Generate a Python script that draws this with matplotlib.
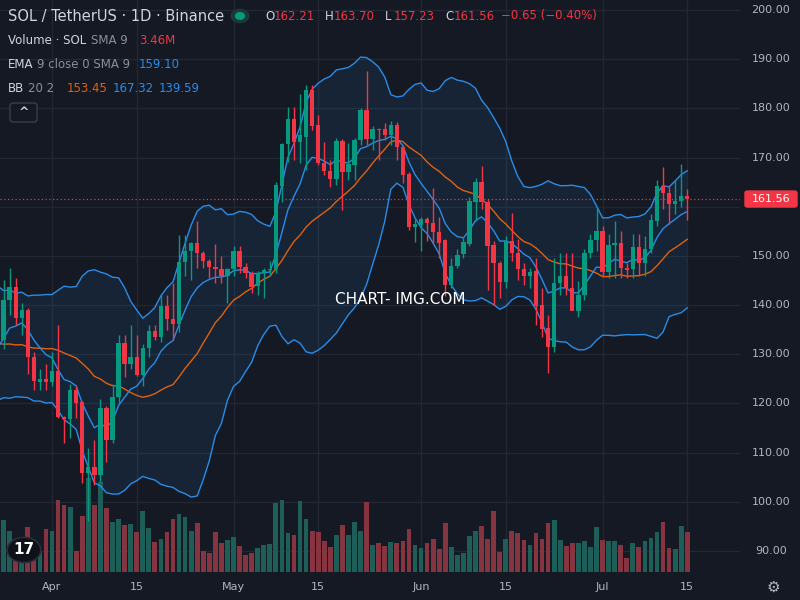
import numpy as np
import matplotlib
matplotlib.use("Agg")
import matplotlib.pyplot as plt
from matplotlib.patches import Circle, FancyBboxPatch

# warm-up closes (Mar 1 - Mar 22), off-screen, used for indicators only
warm_close = [148, 170, 143, 145, 143, 141, 138, 138, 130, 125, 127, 126, 124, 128,
              133, 130, 128, 130, 135, 130, 130, 131]

# visible daily candles, Mar 23 .. Jul 15
opens = [128, 133, 141, 143.7, 137.3, 139, 129.5, 124.4, 125,
         124.4, 126.6, 117.2, 116.9, 122.7, 120.2, 105.9, 107, 105.5, 119, 112.6, 121.3, 132.3, 128, 129.5,
         125.8, 131.3, 134.7, 133.6, 139.8, 137.2, 136.2, 148.8, 151, 152.6, 150.6, 149, 147.7, 147.4, 145.9,
         147.3, 150.9, 147.8, 146.6, 143.9, 146.6, 147.2, 147.3, 164.2, 172.8, 177.8, 173.2, 174.2, 183.7, 176.6,
         168.9, 167.2, 165.7, 173.4, 167, 168.5, 173.6, 179.7, 173.8, 175.8, 175.8, 174.6, 176.7, 172.1, 166.7, 155.9,
         156.3, 157.6, 156.7, 154.8, 153.2, 144.1, 148, 150.3, 152.4, 161, 165.1, 161, 152.2, 148.6, 144.6, 153.1,
         150.6, 147.3, 145.9, 146.9, 140, 135.3, 131.5, 144.5, 146, 143.5, 138.8, 142.1, 150.6, 153.3,
         155, 146.8, 152.2, 152.6, 147.6, 147.4, 151.8, 148.6, 151.4, 157, 164.2, 162.8, 160.5, 161.1, 162.21]
highs = [134, 145, 147.5, 145.5, 140.5, 139.5, 130.5, 127, 128,
         130.5, 136, 117.5, 124, 123.5, 120.5, 111, 112.6, 121, 119.5, 124, 134, 134, 136, 134,
         132, 136, 136, 142, 142, 144.5, 154.3, 154.3, 152.8, 157, 151, 149.3, 152.5, 150, 147.5,
         152, 152, 148.5, 147, 147, 147.5, 149, 165, 173, 180.3, 180.3, 183, 184.7, 184.7, 178.7,
         173.2, 169.5, 174, 173.8, 173, 174, 180, 187.5, 176.5, 176, 177, 177.5, 177.3, 172.5, 167, 158,
         158, 158, 163.8, 158, 153.5, 149.5, 151.5, 153.9, 162, 165.8, 168.3, 161.5, 153, 149, 154, 158.7,
         153.5, 148.5, 147.5, 149.5, 143.5, 138, 149.5, 150.5, 150.5, 150.5, 144.8, 151.5, 154.5, 160,
         156, 154.5, 157, 155, 148.5, 154.5, 154.5, 154, 158.5, 165.5, 168.1, 164.5, 165.5, 168.7, 163.70]
lows = [126, 131, 138, 136, 134, 126, 122.7, 122.7, 122.7,
        123.5, 117, 112, 113, 117, 103.8, 96, 103.5, 104, 108, 112, 120, 125.4, 127, 125.5,
        123.5, 129.5, 133, 132.5, 135, 133, 134.5, 146, 145, 147.5, 147.5, 145.5, 144.5, 144.5, 140.4,
        146, 146.5, 145.5, 142.5, 142, 141.5, 146, 146.5, 161, 169, 169.5, 168.8, 167.5, 175.5, 168.5,
        166.5, 164, 164.5, 159.3, 165.5, 165.5, 172.5, 172.5, 171.5, 169.5, 173.5, 172.5, 169.5, 164.8, 155.3, 152.8,
        151, 153, 152.4, 149.5, 141.8, 143.5, 147.5, 149.5, 152, 157, 159.5, 143, 140, 141.5, 143.5, 149,
        145, 144, 143.5, 136, 133.5, 126.2, 130.5, 142, 142, 140.5, 137.5, 141, 149.5, 151,
        146, 145.5, 145.5, 145.5, 145.5, 145.5, 146, 146, 150.5, 156, 159.5, 156.5, 158.5, 160, 157.23]
closes = [133, 141, 143.7, 137.3, 139, 129.5, 124.5, 125, 124.4,
          126.6, 117.2, 116.9, 122.7, 120.1, 105.9, 107, 105.5, 119, 112.6, 121.3, 132.3, 128, 129.5, 125.8,
          131.3, 134.7, 133.6, 139.8, 137.2, 136.2, 148.8, 151, 152.6, 150.6, 149, 147.7, 147.4, 145.9, 147.4,
          150.9, 147.8, 146.6, 143.7, 146.6, 147.2, 147.3, 164.4, 172.8, 177.8, 173.2, 174.5, 183.7, 176.5, 168.9,
          167.2, 165.6, 173.4, 167, 168.6, 173.5, 179.7, 173.8, 175.8, 175.6, 174.6, 176.7, 172.1, 166.5, 155.9, 156.4,
          157.6, 156.6, 154.8, 152.6, 144.1, 147.9, 150.2, 152.8, 161.2, 165.1, 161, 152, 148.6, 144.6, 153.1, 150.5,
          147.3, 145.9, 146.7, 139.9, 135.2, 131.5, 144.5, 146, 143.5, 138.8, 142.1, 150.6, 153.3, 155,
          146.8, 152.2, 152.6, 147.6, 147.2, 151.8, 148.6, 151.5, 157.2, 164.2, 162.8, 160.5, 161.1, 162.2, 161.56]
# volume in millions of SOL
volumes = [1.81, 4.52, 3.57, 1.89, 1.89, 3.89, 1.80, 1.80, 3.71,
           3.57, 6.23, 5.83, 5.63, 1.80, 4.84, 8.2, 5.83, 7.8, 5.54, 4.35, 4.58, 4.09, 4.15, 3.48,
           5.28, 3.80, 2.61, 2.84, 3.48, 4.58, 5.05, 4.79, 3.54, 4.26, 1.83, 1.65, 3.48, 2.49, 2.78,
           3.02, 2.23, 1.45, 1.65, 2.06, 2.32, 2.41, 5.97, 6.23, 3.39, 3.19, 6.15, 4.58, 3.60, 3.51,
           2.73, 2.20, 3.19, 4.09, 3.19, 4.32, 3.57, 6.06, 2.32, 2.49, 2.23, 2.61, 2.49, 2.67, 3.71, 2.32,
           2.06, 2.49, 2.84, 1.97, 4.23, 2.20, 1.45, 1.62, 3.10, 3.54, 3.97, 2.84, 5.28, 1.71, 2.84, 3.54,
           3.36, 2.76, 2.32, 3.36, 2.84, 4.23, 4.49, 2.76, 2.23, 2.49, 2.49, 2.67, 2.15, 3.89,
           2.76, 2.67, 2.67, 2.32, 1.19, 2.49, 2.15, 2.67, 2.93, 3.45, 4.32, 2.06, 1.97, 3.97, 3.46]

price_ticks = [90, 100, 110, 120, 130, 140, 150, 160, 170, 180, 190, 200]
date_ticks = [0, 14, 30, 44, 61, 75, 91, 105]
date_labels = ["Apr", "15", "May", "15", "Jun", "15", "Jul", "15"]
start_day = -9  # Mar 23 relative to Apr 1

BG = "#151924"
GRID = "#232733"
UP, DN = "#089981", "#f23645"
VUP, VDN = "#1d5f58", "#863540"
TXT = "#d1d4dc"

o = np.array(opens); h = np.array(highs); l = np.array(lows); c = np.array(closes)
n = len(c)
days = np.arange(n) + start_day
allc = np.array(warm_close + closes, dtype=float)
nw = len(warm_close)

# indicators
alpha = 2 / 10
ema = np.zeros_like(allc); ema[0] = allc[0]
for i in range(1, len(allc)):
    ema[i] = alpha * allc[i] + (1 - alpha) * ema[i - 1]
basis = np.array([allc[max(0, i - 19):i + 1].mean() for i in range(len(allc))])
sd = np.array([allc[max(0, i - 19):i + 1].std() for i in range(len(allc))])
up_b, lo_b = basis + 2 * sd, basis - 2 * sd
alld = np.arange(len(allc)) - nw + start_day

fig = plt.figure(figsize=(8, 6), dpi=100, facecolor=BG)
W, H = 800, 600
axR, axB = 740, 572
ax = fig.add_axes([0, (H - axB) / H, axR / W, axB / H], facecolor=BG)
axv = fig.add_axes(ax.get_position(), facecolor="none", sharex=ax)
axv.set_zorder(0); ax.set_zorder(1); ax.patch.set_visible(False)
axv.patch.set_facecolor(BG); axv.patch.set_visible(True)

xmin = (0 - 52) / 6.05
xmax = (740 - 52) / 6.05
ax.set_xlim(xmin, xmax)
y0p, y1p = 200 - 562 / 4.918, 200 + 10 / 4.918
ax.set_ylim(y0p, y1p)
VTOP = 49.7
axv.set_ylim(0, VTOP)

# grid
for p in price_ticks:
    axv.axhline((p - y0p) / (y1p - y0p) * VTOP, color=GRID, lw=1, zorder=0)
for d in date_ticks:
    axv.axvline(d, color=GRID, lw=1, zorder=0)

# volume
upmask = c >= o
axv.bar(days, volumes, width=0.78, color=np.where(upmask, VUP, VDN), zorder=1)

# bands
ax.fill_between(alld, lo_b, up_b, color="#2196f3", alpha=0.09, lw=0, zorder=1)
ax.plot(alld, up_b, color="#2a8ce8", lw=1, zorder=2)
ax.plot(alld, lo_b, color="#2a8ce8", lw=1, zorder=2)
ax.plot(alld, basis, color="#e0620e", lw=1, zorder=2)
ax.plot(alld, ema, color="#2a8ce8", lw=1, zorder=2)

# candles
cols = np.where(upmask, UP, DN)
ax.vlines(days, l, h, colors=cols, lw=1, zorder=3)
ax.bar(days, np.maximum(np.abs(c - o), 0.2), bottom=np.minimum(o, c), width=0.72,
       color=cols, zorder=4)

# last price line
ax.axhline(closes[-1], color=DN, lw=0.9, ls=(0, (1, 2)), zorder=2)

for a in (ax, axv):
    a.set_xticks([]); a.set_yticks([])
    for s in a.spines.values():
        s.set_visible(False)

def ftext(x, y, s, **kw):
    fig.text(x / W, 1 - y / H, s, **kw)

# right price labels
lp_y = 10 + (200 - closes[-1]) * 4.918
for p in price_ticks:
    y = 10 + (200 - p) * 4.918
    if abs(y - lp_y) < 14:
        continue
    ftext(771, y, f"{p:.2f}", color="#b2b5be", fontsize=8, ha="center", va="center")
fig.patches.append(FancyBboxPatch((745 / W, 1 - (lp_y + 8) / H), 52 / W, 16 / H,
                                  boxstyle="round,pad=0,rounding_size=0.003",
                                  transform=fig.transFigure, color=DN))
ftext(771, lp_y, f"{closes[-1]:.2f}", color="white", fontsize=8, ha="center", va="center")

# date labels
for d, s in zip(date_ticks, date_labels):
    ftext(52 + 6.05 * d, 587, s, color="#b2b5be", fontsize=8, ha="center", va="center")
ftext(773, 587, "⚙", color="#b2b5be", fontsize=11, ha="center", va="center")

# header
ftext(8, 16, "SOL / TetherUS · 1D · Binance", color=TXT, fontsize=10.5, va="center")
fig.patches.append(Circle((240 / W, 1 - 16 / H), 0.011, transform=fig.transFigure,
                          color="#1b3a36"))
fig.patches.append(Circle((240 / W, 1 - 16 / H), 0.0055, transform=fig.transFigure,
                          color=UP))
x = 265
for lab, val in [("O", "162.21"), ("H", "163.70"), ("L", "157.23"), ("C", "161.56")]:
    ftext(x, 16, lab, color=TXT, fontsize=8.5, va="center")
    ftext(x + 9, 16, val, color=DN, fontsize=8.5, va="center")
    x += 9 + 45 + 6
ftext(x - 4, 16, "−0.65 (−0.40%)", color=DN, fontsize=8.5, va="center")

ftext(8, 41, "Volume · SOL", color=TXT, fontsize=8.5, va="center")
ftext(91, 41, "SMA 9", color="#8b8f9a", fontsize=8.5, va="center")
ftext(139, 41, "3.46M", color=DN, fontsize=8.5, va="center")
ftext(8, 64, "EMA", color=TXT, fontsize=8.5, va="center")
ftext(37, 64, "9 close 0 SMA 9", color="#8b8f9a", fontsize=8.5, va="center")
ftext(139, 64, "159.10", color="#2a8ce8", fontsize=8.5, va="center")
ftext(8, 88, "BB", color=TXT, fontsize=8.5, va="center")
ftext(28, 88, "20 2", color="#8b8f9a", fontsize=8.5, va="center")
ftext(67, 88, "153.45", color="#e0620e", fontsize=8.5, va="center")
ftext(113, 88, "167.32", color="#2a8ce8", fontsize=8.5, va="center")
ftext(159, 88, "139.59", color="#2a8ce8", fontsize=8.5, va="center")
fig.patches.append(FancyBboxPatch((10 / W, 1 - 122 / H), 27 / W, 19 / H,
                                  boxstyle="round,pad=0,rounding_size=0.004",
                                  transform=fig.transFigure, facecolor=BG,
                                  edgecolor="#3a3e4a", lw=1))
ftext(23.5, 112, "^", color=TXT, fontsize=9, ha="center", va="center", fontweight="bold")

# watermark
ftext(400, 299, "CHART- IMG.COM", color="white", fontsize=11, ha="center", va="center")

# logo
fig.patches.append(Circle((24 / W, 1 - 550 / H), 0.021, transform=fig.transFigure,
                          facecolor="#0e1118", edgecolor="#2a2e39", lw=1.2, zorder=5))
ftext(24, 550, "17", color="white", fontsize=11, fontweight="bold", ha="center", va="center",
      zorder=6)

fig.savefig("out.png", dpi=100, facecolor=BG)
